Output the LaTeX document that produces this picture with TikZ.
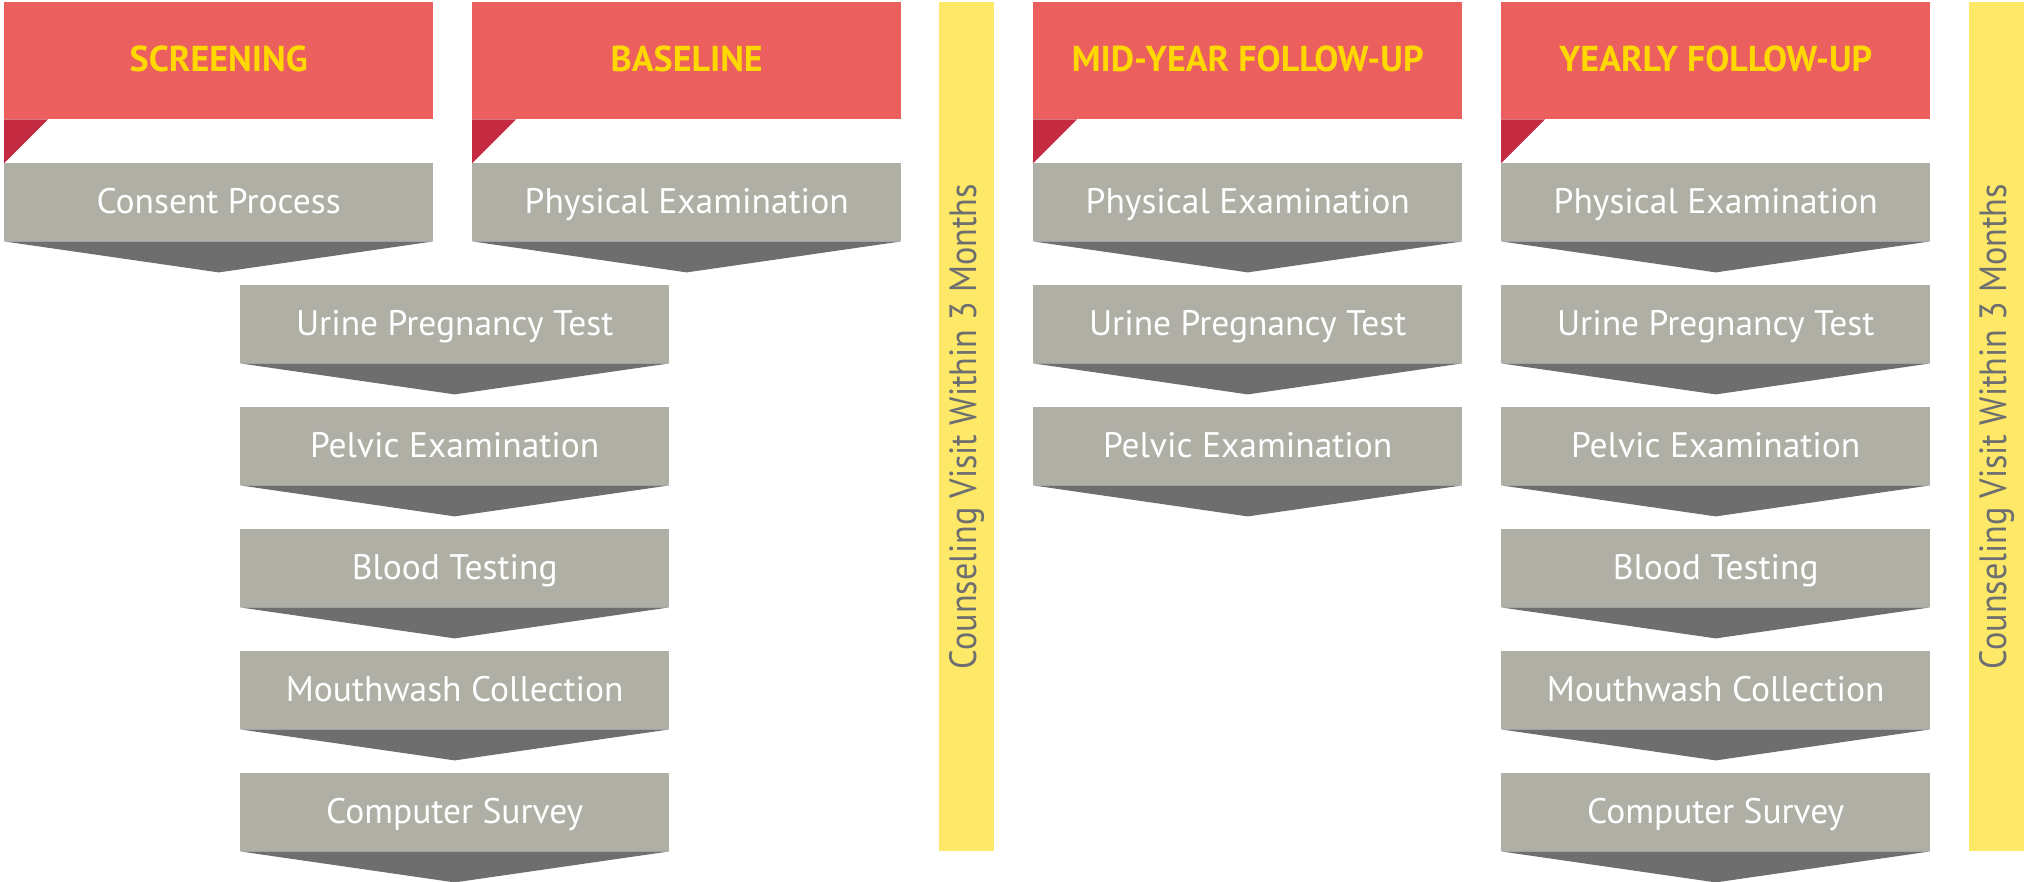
\documentclass[tikz,border=0pt]{standalone}
\usepackage{fontspec}
\setmainfont{PT Sans}
\newfontfamily\barfont[FakeStretch=0.9]{PT Sans}
\usetikzlibrary{calc}
\definecolor{hdrred}{HTML}{EC5F5F}
\definecolor{hdryellow}{HTML}{FFD800}
\definecolor{foldred}{HTML}{C42A40}
\definecolor{boxgray}{HTML}{B0AFA6}
\definecolor{arrowgray}{HTML}{6E6E6E}
\definecolor{baryellow}{HTML}{FEE867}
\definecolor{bartext}{HTML}{6D6E70}
\tikzset{
  header/.style={fill=hdrred, text=hdryellow, inner sep=0,
    minimum width=429, minimum height=117, anchor=north west,
    text height=26, text depth=4,
    font=\bfseries\fontsize{36}{40}\selectfont},
  stepbox/.style={fill=boxgray, text=white, inner sep=0,
    minimum width=429, minimum height=78, anchor=north west,
    text height=28, text depth=5,
    font=\fontsize{35.5}{40}\selectfont},
  visitbar/.style={fill=baryellow, text=bartext, inner sep=0,
    rotate=90, minimum width=849, minimum height=55,
    font=\barfont\fontsize{38}{42}\selectfont}
}

\begin{document}
\begin{tikzpicture}[x=1pt,y=-1pt]
\useasboundingbox (0,0) rectangle (2024,881);
% headers
\node[header] (scr)  at (4,2)    {SCREENING};
\node[header] (base) at (472,2)  {BASELINE};
\node[header] (mid)  at (1033,2) {MID-YEAR FOLLOW-UP};
\node[header] (year) at (1501,2) {YEARLY FOLLOW-UP};
\foreach \h in {scr,base,mid,year}
  \fill[foldred] (\h.south west) -- ++(44,0) -- ++(-44,44) -- cycle;
% steps
\node[stepbox] (scr1)  at (4,163)   {Consent Process};
\node[stepbox] (base1) at (472,163) {Physical Examination};
\foreach \t [count=\i from 2] in {Urine Pregnancy Test, Pelvic Examination,
    Blood Testing, Mouthwash Collection, Computer Survey}
  \node[stepbox] (base\i) at (240,{163+122*(\i-1)}) {\t};
\foreach \t [count=\i] in {Physical Examination, Urine Pregnancy Test,
    Pelvic Examination}
  \node[stepbox] (mid\i) at (1033,{163+122*(\i-1)}) {\t};
\foreach \t [count=\i] in {Physical Examination, Urine Pregnancy Test,
    Pelvic Examination, Blood Testing, Mouthwash Collection, Computer Survey}
  \node[stepbox] (year\i) at (1501,{163+122*(\i-1)}) {\t};
% arrow tips under the steps
\foreach \n in {scr1,base1,base2,base3,base4,base5,base6,mid1,mid2,mid3,
    year1,year2,year3,year4,year5,year6}
  \fill[arrowgray] (\n.south west) -- (\n.south east)
    -- ([yshift=-31pt]\n.south) -- cycle;
% counseling bars
\node[visitbar] (visit1) at (966.5,426.5)  {Counseling Visit Within 3 Months};
\node[visitbar] (visit2) at (1996.5,426.5) {Counseling Visit Within 3 Months};
\end{tikzpicture}
\end{document}
